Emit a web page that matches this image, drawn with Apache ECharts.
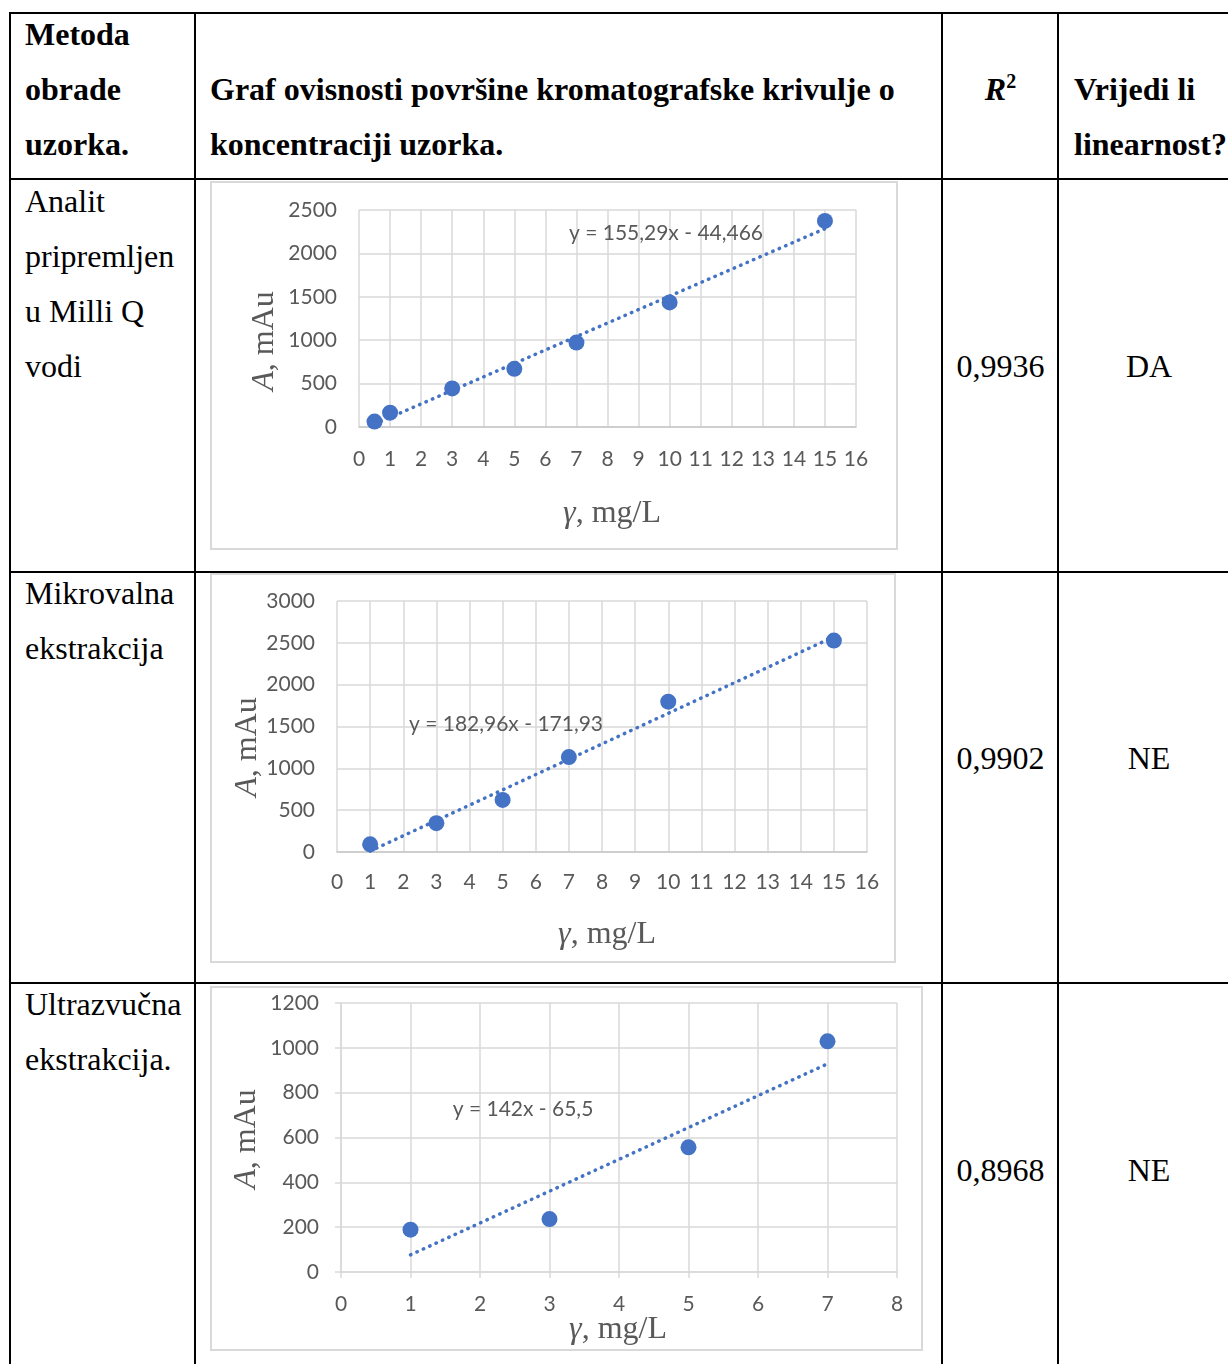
<!DOCTYPE html>
<html>
<head>
<meta charset="utf-8">
<script src="https://cdn.jsdelivr.net/npm/echarts@6/dist/echarts.min.js"></script>
<style>
html, body { margin: 0; padding: 0; background: #fff; overflow: hidden; width: 1228px; height: 1364px; }
#page { position: relative; width: 1228px; height: 1364px; overflow: hidden;
        font-family: "Liberation Serif", "Times New Roman", serif; color: #000; }
.hl { position: absolute; left: 9px; width: 1240px; height: 2px; background: #000; }
.vl { position: absolute; top: 12px; height: 1360px; width: 2px; background: #000; }
.txt { position: absolute; font-size: 32px; line-height: 55px; white-space: nowrap; }
.b { font-weight: bold; }
.ctr { text-align: center; }
.frame { position: absolute; border: 2px solid #d9d9d9; box-sizing: border-box; }
.chart { position: absolute; }
</style>
</head>
<body>
<div id="page"></div>
<script>
// ---- table content ----
const headMethod = ['Metoda', 'obrade', 'uzorka.'];
const headGraph = ['Graf ovisnosti površine kromatografske krivulje o', 'koncentraciji uzorka.'];
const headLinear = ['Vrijedi li', 'linearnost?'];
const methods = [
  ['Analit', 'pripremljen', 'u Milli Q', 'vodi'],
  ['Mikrovalna', 'ekstrakcija'],
  ['Ultrazvučna', 'ekstrakcija.']
];
const rSquared = [0.9936, 0.9902, 0.8968];
const linearity = ['DA', 'NE', 'NE'];

// ---- calibration data: concentration (mg/L) vs. peak area (mAu) ----
const conc1 = [0.5, 1, 3, 5, 7, 10, 15];
const area1 = [62, 165, 444, 670, 973, 1435, 2374];
const conc2 = [1, 3, 5, 7, 10, 15];
const area2 = [92, 345, 622, 1135, 1797, 2527];
const conc3 = [1, 3, 5, 7];
const area3 = [189, 236, 556, 1029];

// linear trendline coefficients (y = slope*x + intercept)
const slopes = [155.29, 182.96, 142];
const intercepts = [-44.466, -171.93, -65.5];

// axis ranges
const xMax = [16, 16, 8];
const yMax = [2500, 3000, 1200];
const yStep = [500, 500, 200];

const comma = v => String(v).replace('.', ',');

// ---- table layout ----
const page = document.getElementById('page');
function add(cls, style, html) {
  const d = document.createElement('div');
  d.className = cls;
  Object.assign(d.style, style);
  if (html !== undefined) d.innerHTML = html;
  page.appendChild(d);
  return d;
}
[12, 178, 571, 982].forEach(t => add('hl', { top: t + 'px' }));
[9, 194, 941, 1057].forEach(l => add('vl', { left: l + 'px' }));

// header row
add('txt b', { left: '25px', top: '7px' }, headMethod.join('<br>'));
add('txt b', { left: '210px', top: '62px' }, headGraph.join('<br>'));
add('txt b ctr', { left: '943px', width: '115px', top: '62px' }, '<i>R</i><sup style="font-size:20px;line-height:0">2</sup>');
add('txt b', { left: '1074px', top: '62px' }, headLinear.join('<br>'));

// body rows
const rowTextTop = [174, 566, 977];
const rowValueTop = [339, 731, 1143];
methods.forEach((m, i) => {
  add('txt', { left: '25px', top: rowTextTop[i] + 'px' }, m.join('<br>'));
  add('txt ctr', { left: '943px', width: '115px', top: rowValueTop[i] + 'px' }, comma(rSquared[i]));
  add('txt ctr', { left: '1059px', width: '180px', top: rowValueTop[i] + 'px' }, linearity[i]);
});

// ---- charts ----
const boxes = [
  { left: 210, top: 181, width: 688, height: 369, grid: { left: 149, right: 42, top: 29, bottom: 123 },
    eq: [456, 52], yName: [55, 160], xName: [402, 333], ticks: false, xAxisLine: '#c8c8c8', xMargin: 22 },
  { left: 210, top: 573, width: 686, height: 390, grid: { left: 127, right: 29, top: 28, bottom: 111 },
    eq: [296, 151], yName: [38, 174], xName: [397, 362], ticks: false, xAxisLine: '#c8c8c8', xMargin: 20 },
  { left: 210, top: 986, width: 713, height: 365, grid: { left: 131, right: 26, top: 17, bottom: 79 },
    eq: [313, 123], yName: [37, 153], xName: [408, 344], ticks: true, xAxisLine: '#d9d9d9', xMargin: 22 }
];
const concs = [conc1, conc2, conc3];
const areas = [area1, area2, area3];

const LABEL_FONT = 'Lato, "Open Sans", sans-serif';
const GRID_COLOR = '#d9d9d9';
const BLUE = '#4472c4';
const GREY_TEXT = '#595959';

boxes.forEach((b, i) => {
  add('frame', { left: b.left + 'px', top: b.top + 'px', width: b.width + 'px', height: b.height + 'px' });
  const el = add('chart', { left: b.left + 'px', top: b.top + 'px', width: b.width + 'px', height: b.height + 'px' });
  const chart = echarts.init(el, null, { renderer: 'canvas' });

  const xs = concs[i], ys = areas[i];
  const points = xs.map((x, k) => [x, ys[k]]);
  const x0 = Math.min(...xs), x1 = Math.max(...xs);
  const trend = [[x0, slopes[i] * x0 + intercepts[i]], [x1, slopes[i] * x1 + intercepts[i]]];
  const eqText = 'y = ' + comma(slopes[i]) + 'x - ' + comma(-intercepts[i]);

  chart.setOption({
    animation: false,
    grid: b.grid,
    xAxis: {
      type: 'value', min: 0, max: xMax[i], interval: 1,
      axisLine: { show: true, lineStyle: { color: b.xAxisLine, width: 1.5 } },
      axisTick: { show: b.ticks, length: 6, lineStyle: { color: GRID_COLOR, width: 1.5 } },
      axisLabel: { color: GREY_TEXT, fontFamily: LABEL_FONT, fontSize: 21, margin: b.xMargin,
                   formatter: v => String(v) },
      splitLine: { show: true, lineStyle: { color: GRID_COLOR, width: 1.5 } }
    },
    yAxis: {
      type: 'value', min: 0, max: yMax[i], interval: yStep[i],
      axisLine: { show: b.ticks, lineStyle: { color: GRID_COLOR, width: 1.5 } },
      axisTick: { show: b.ticks, length: 6, lineStyle: { color: GRID_COLOR, width: 1.5 } },
      axisLabel: { color: GREY_TEXT, fontFamily: LABEL_FONT, fontSize: 21, margin: 22,
                   formatter: v => String(v) },
      splitLine: { show: true, lineStyle: { color: GRID_COLOR, width: 1.5 } }
    },
    series: [
      {
        type: 'line', data: trend, showSymbol: false, silent: true, z: 2,
        lineStyle: { color: BLUE, width: 3.5, type: [0.5, 6.5], cap: 'round' }
      },
      {
        type: 'scatter', data: points, symbol: 'circle', symbolSize: 16, z: 3,
        itemStyle: { color: BLUE, opacity: 1 }
      }
    ],
    graphic: [
      { type: 'text', x: b.eq[0], y: b.eq[1], z: 10,
        style: { text: eqText, fill: GREY_TEXT, fontFamily: LABEL_FONT, fontSize: 21, align: 'center', verticalAlign: 'middle' } },
      { type: 'text', x: b.xName[0], y: b.xName[1], z: 10,
        style: { text: '{i|γ}, mg/L', fill: GREY_TEXT, fontFamily: '"Liberation Serif", serif', fontSize: 32,
                 align: 'center', verticalAlign: 'middle',
                 rich: { i: { fontStyle: 'italic', fontFamily: '"Liberation Serif", serif', fontSize: 32, fill: GREY_TEXT } } } },
      { type: 'text', x: b.yName[0], y: b.yName[1], rotation: Math.PI / 2, z: 10,
        style: { text: '{i|A}, mAu', fill: GREY_TEXT, fontFamily: '"Liberation Serif", serif', fontSize: 32,
                 align: 'center', verticalAlign: 'middle',
                 rich: { i: { fontStyle: 'italic', fontFamily: '"Liberation Serif", serif', fontSize: 32, fill: GREY_TEXT } } } }
    ]
  });
});
</script>
</body>
</html>
